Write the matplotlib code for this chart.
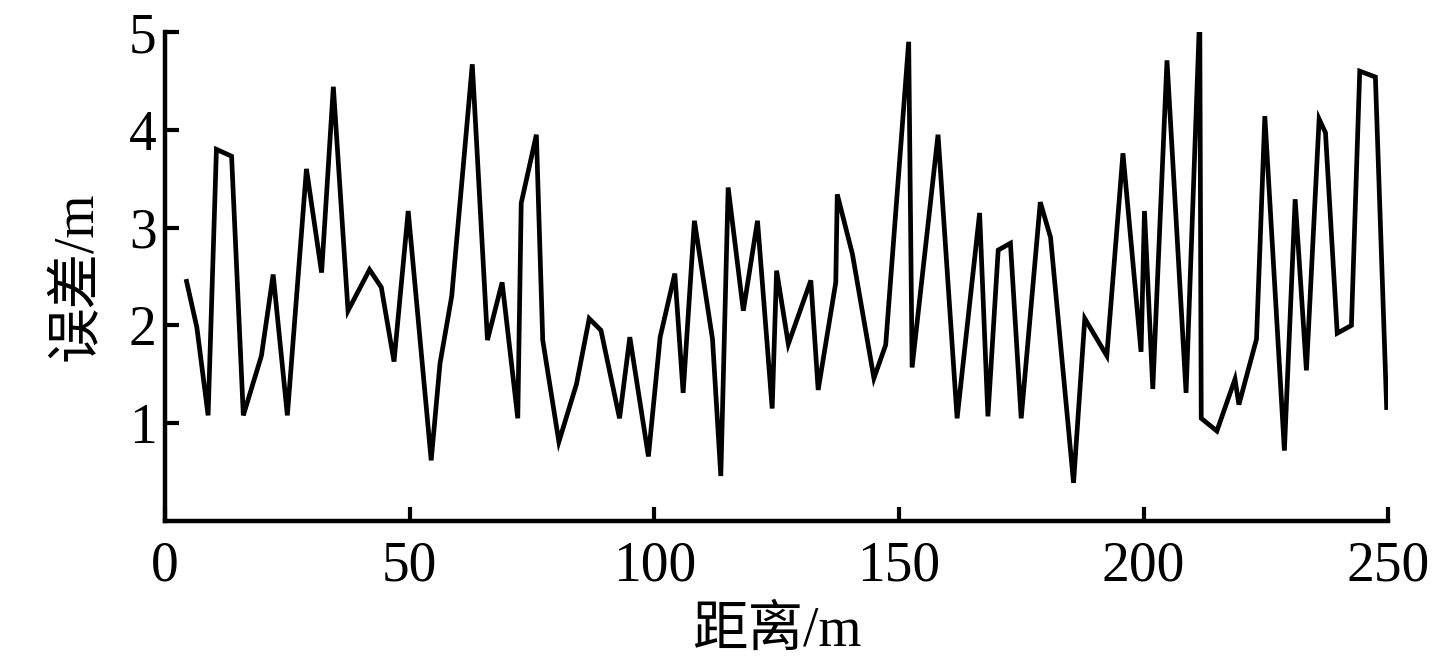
import matplotlib
matplotlib.use("Agg")
import matplotlib.pyplot as plt

# Data
distance = [4.4, 6.5, 8.8, 10.5, 13.6, 16.0, 19.7, 22.1, 25.0, 28.9,
            32.0, 34.4, 37.4, 41.8, 44.2, 46.8, 49.7, 54.4, 56.2, 58.6,
            62.8, 65.9, 68.9, 72.1, 72.8, 75.9, 77.2, 80.5, 84.1, 86.7,
            89.1, 92.9, 95.0, 98.8, 101.2, 104.2, 105.9, 108.2, 111.9, 113.6,
            115.1, 118.2, 121.1, 124.1, 125.0, 127.4, 132.0, 133.5, 137.1, 137.4,
            140.5, 144.9, 147.3, 152.0, 152.7, 158.0, 161.9, 166.5, 168.2, 170.3,
            172.8, 175.0, 178.9, 181.0, 185.7, 188.0, 192.5, 195.8, 199.5, 200.2,
            201.9, 204.8, 208.7, 211.5, 211.8, 215.0, 218.7, 219.5, 223.1, 224.8,
            228.8, 231.0, 233.3, 235.9, 237.2, 239.6, 242.5, 244.2, 247.4, 249.7]
error = [2.45, 1.98, 1.08, 3.80, 3.73, 1.08, 1.69, 2.52, 1.08, 3.60,
         2.54, 4.44, 2.15, 2.57, 2.39, 1.63, 3.17, 0.62, 1.61, 2.30,
         4.67, 1.85, 2.44, 1.05, 3.25, 3.95, 1.85, 0.81, 1.40, 2.07,
         1.95, 1.05, 1.88, 0.66, 1.88, 2.53, 1.31, 3.07, 1.86, 0.46,
         3.41, 2.15, 3.07, 1.15, 2.56, 1.81, 2.46, 1.34, 2.44, 3.34,
         2.73, 1.46, 1.80, 4.90, 1.57, 3.95, 1.05, 3.15, 1.07, 2.77,
         2.84, 1.05, 3.26, 2.90, 0.39, 2.07, 1.69, 3.76, 1.73, 3.17,
         1.35, 4.71, 1.31, 5.20, 1.05, 0.92, 1.45, 1.19, 1.86, 4.14,
         0.72, 3.29, 1.54, 4.11, 3.97, 1.92, 2.00, 4.60, 4.54, 1.16]

x_ticks = [0, 50, 100, 150, 200, 250]
y_ticks = [1, 2, 3, 4, 5]
x_label = "距离/m"
y_label = "误差/m"

fonts = ["Liberation Serif", "Noto Sans CJK SC", "DejaVu Sans"]
plt.rcParams["font.family"] = fonts

fig = plt.figure(figsize=(14.34, 6.6), dpi=100)
ax = fig.add_axes([0.1151, 0.2106, 0.968 - 0.1151, 0.9515 - 0.2106])

ax.plot(distance, error, color="black", linewidth=3.4, solid_joinstyle="miter")

ax.set_xlim(0, 250)
ax.set_ylim(0, 5)
ax.set_xticks(x_ticks)
ax.set_yticks(y_ticks)
ax.set_xticklabels([str(t) for t in x_ticks])
ax.set_yticklabels([str(t) for t in y_ticks])

for side in ("top", "right"):
    ax.spines[side].set_visible(False)
for side in ("left", "bottom"):
    ax.spines[side].set_linewidth(3.2)

ax.tick_params(axis="both", direction="in", length=10, width=3, labelsize=40)
ax.tick_params(axis="x", pad=14)
ax.tick_params(axis="y", pad=6)

ax.set_xlabel(x_label, fontsize=40, labelpad=10)
ax.set_ylabel(y_label, fontsize=40, labelpad=18)

fig.savefig("out.png", dpi=100)
